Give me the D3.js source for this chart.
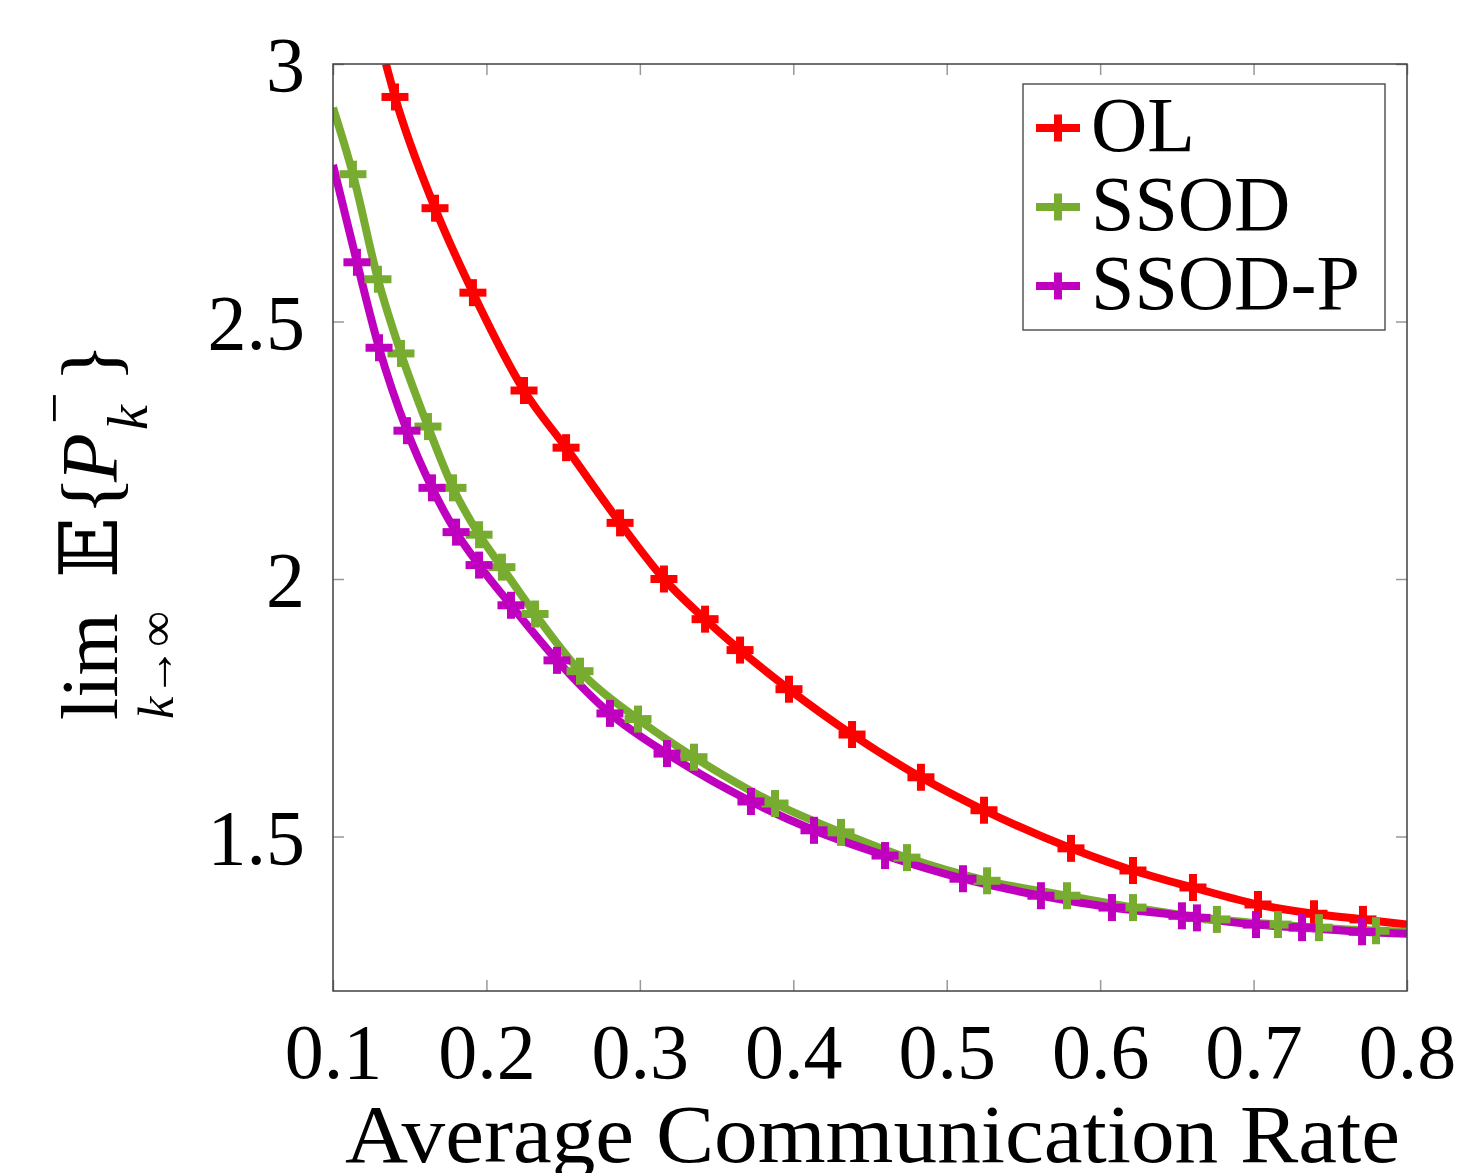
<!DOCTYPE html>
<html>
<head>
<meta charset="utf-8">
<script src="https://cdn.jsdelivr.net/npm/d3@7"></script>
<style>
  body { margin: 0; background: #fff; }
  text { font-family: "Liberation Serif", "DejaVu Serif", serif; fill: #000; }
</style>
</head>
<body>
<script>
// series data (first/last points are line ends only, no marker)
var olX   = [0.1345, 0.1404, 0.1665, 0.1912, 0.2245, 0.2519, 0.2871, 0.3157, 0.3425, 0.3653, 0.3972, 0.4383, 0.4832, 0.5243, 0.5810, 0.6214, 0.6605, 0.7029, 0.7394, 0.7713, 0.8];
var olY   = [3.000, 2.936, 2.720, 2.556, 2.366, 2.255, 2.109, 2.000, 1.922, 1.862, 1.786, 1.698, 1.615, 1.551, 1.477, 1.434, 1.401, 1.368, 1.350, 1.339, 1.329];
var ssodX = [0.1, 0.1130, 0.1293, 0.1443, 0.1619, 0.1782, 0.1952, 0.2101, 0.2317, 0.2610, 0.2988, 0.3353, 0.3881, 0.4311, 0.4741, 0.5263, 0.5784, 0.6214, 0.6761, 0.7159, 0.7426, 0.7798, 0.8];
var ssodY = [2.915, 2.786, 2.582, 2.438, 2.296, 2.177, 2.086, 2.023, 1.932, 1.821, 1.728, 1.654, 1.564, 1.508, 1.459, 1.414, 1.385, 1.362, 1.339, 1.329, 1.323, 1.317, 1.315];
var ssodpX = [0.1, 0.1156, 0.1300, 0.1482, 0.1645, 0.1802, 0.1952, 0.2160, 0.2460, 0.2805, 0.3177, 0.3724, 0.4135, 0.4598, 0.5106, 0.5614, 0.6077, 0.6533, 0.6631, 0.7016, 0.7316, 0.7707, 0.8];
var ssodpY = [2.804, 2.615, 2.449, 2.288, 2.177, 2.091, 2.027, 1.949, 1.842, 1.739, 1.661, 1.568, 1.512, 1.463, 1.418, 1.385, 1.362, 1.346, 1.342, 1.329, 1.323, 1.315, 1.311];

var seriesNames = ["OL", "SSOD", "SSOD-P"];
var seriesColors = ["#ff0000", "#77ac30", "#bf00bf"];
var xTicks = [0.1, 0.2, 0.3, 0.4, 0.5, 0.6, 0.7, 0.8];
var yTicks = [1.5, 2, 2.5, 3];

var series = [
  { name: seriesNames[0], color: seriesColors[0], xs: olX, ys: olY },
  { name: seriesNames[1], color: seriesColors[1], xs: ssodX, ys: ssodY },
  { name: seriesNames[2], color: seriesColors[2], xs: ssodpX, ys: ssodpY }
];

//Width and height
var w = 1459, h = 1173;
var pLeft = 333, pRight = 1407, pTop = 64, pBottom = 991;

var svg = d3.select("body").append("svg")
            .attr("width", w)
            .attr("height", h);

var xScale = d3.scaleLinear().domain([0.1, 0.8]).range([pLeft, pRight]);
var yScale = d3.scaleLinear().domain([1.2, 3]).range([pBottom, pTop]);

svg.append("clipPath").attr("id", "plotclip")
   .append("rect")
   .attr("x", pLeft).attr("y", pTop)
   .attr("width", pRight - pLeft).attr("height", pBottom - pTop);

// ticks inside on all four sides
var tickLen = 11;
var axisStyle = function(g) {
  g.select(".domain").remove();
  g.selectAll(".tick line").attr("stroke", "#999").attr("stroke-width", 1.5);
  g.selectAll(".tick text").style("font-size", "78px").attr("fill", "#000");
};

svg.append("g")
   .attr("transform", "translate(0," + pBottom + ")")
   .call(d3.axisBottom(xScale).tickValues(xTicks).tickSize(-tickLen).tickPadding(32).tickFormat(d3.format(".1f")))
   .call(axisStyle);

svg.append("g")
   .attr("transform", "translate(0," + pTop + ")")
   .call(d3.axisTop(xScale).tickValues(xTicks).tickSize(-tickLen).tickFormat(""))
   .call(axisStyle);

svg.append("g")
   .attr("transform", "translate(" + pLeft + ",0)")
   .call(d3.axisLeft(yScale).tickValues(yTicks).tickSize(-tickLen).tickPadding(28).tickFormat(function(d) { return d3.format("")(d); }))
   .call(axisStyle)
   .selectAll(".tick text").attr("dy", "0.34em");

svg.append("g")
   .attr("transform", "translate(" + pRight + ",0)")
   .call(d3.axisRight(yScale).tickValues(yTicks).tickSize(-tickLen).tickFormat(""))
   .call(axisStyle);

// lines
var line = d3.line()
             .x(function(d) { return xScale(d[0]); })
             .y(function(d) { return yScale(d[1]); })
             .curve(d3.curveMonotoneX);

var plot = svg.append("g").attr("clip-path", "url(#plotclip)");

var armLen = 13.5;
function plus(g, color) {
  g.append("line").attr("x1", -armLen).attr("x2", armLen).attr("y1", 0).attr("y2", 0)
   .attr("stroke", color).attr("stroke-width", 8);
  g.append("line").attr("x1", 0).attr("x2", 0).attr("y1", -armLen).attr("y2", armLen)
   .attr("stroke", color).attr("stroke-width", 8);
}

series.forEach(function(s) {
  var pts = s.xs.map(function(x, i) { return [x, s.ys[i]]; });
  plot.append("path")
      .datum(pts)
      .attr("fill", "none")
      .attr("stroke", s.color)
      .attr("stroke-width", 8)
      .attr("stroke-linejoin", "round")
      .attr("d", line);
});

series.forEach(function(s) {
  var pts = s.xs.map(function(x, i) { return [x, s.ys[i]]; }).slice(1, -1);
  plot.selectAll(null)
      .data(pts)
      .enter()
      .append("g")
      .attr("transform", function(d) { return "translate(" + xScale(d[0]) + "," + yScale(d[1]) + ")"; })
      .each(function() { plus(d3.select(this), s.color); });
});

// frame
svg.append("rect")
   .attr("x", pLeft).attr("y", pTop)
   .attr("width", pRight - pLeft).attr("height", pBottom - pTop)
   .attr("fill", "none")
   .attr("stroke", "#404040")
   .attr("stroke-width", 1.5);

// legend
var legend = svg.append("g");
legend.append("rect")
      .attr("x", 1023).attr("y", 84)
      .attr("width", 362).attr("height", 246)
      .attr("fill", "#fff")
      .attr("stroke", "#555")
      .attr("stroke-width", 1.5);

series.forEach(function(s, i) {
  var cy = 128 + i * 79;
  var g = legend.append("g").attr("transform", "translate(1058," + cy + ")");
  g.append("line").attr("x1", -22).attr("x2", 22).attr("y1", 0).attr("y2", 0)
   .attr("stroke", s.color).attr("stroke-width", 8);
  plus(g, s.color);
  legend.append("text")
        .attr("x", 1091)
        .attr("y", cy + 23)
        .style("font-size", "78px")
        .text(s.name);
});

// x label
svg.append("text")
   .attr("x", (345 + 1400) / 2)
   .attr("y", 1162)
   .attr("text-anchor", "middle")
   .style("font-size", "82px")
   .attr("textLength", 1055)
   .attr("lengthAdjust", "spacingAndGlyphs")
   .text("Average Communication Rate");

// y label, rotated
var yl = svg.append("g").attr("transform", "translate(117,720) rotate(-90)");
yl.append("text").attr("x", 0).attr("y", 0).style("font-size", "80px").text("lim");
yl.append("text").attr("x", 55).attr("y", 56).attr("text-anchor", "middle").style("font-size", "50px")
  .html('<tspan font-style="italic">k</tspan>→∞');
yl.append("text").attr("x", 142).attr("y", 0).style("font-size", "80px").text("𝔼");
yl.append("text").attr("x", 205).attr("y", 0).style("font-size", "80px").text("{");
yl.append("text").attr("x", 238).attr("y", 0).style("font-size", "80px").style("font-style", "italic").text("P");
yl.append("text").attr("x", 290).attr("y", 30).style("font-size", "56px").style("font-style", "italic").text("k");
yl.append("text").attr("x", 296).attr("y", -44).style("font-size", "56px").text("−");
yl.append("text").attr("x", 338).attr("y", 0).style("font-size", "80px").text("}");
</script>
</body>
</html>
